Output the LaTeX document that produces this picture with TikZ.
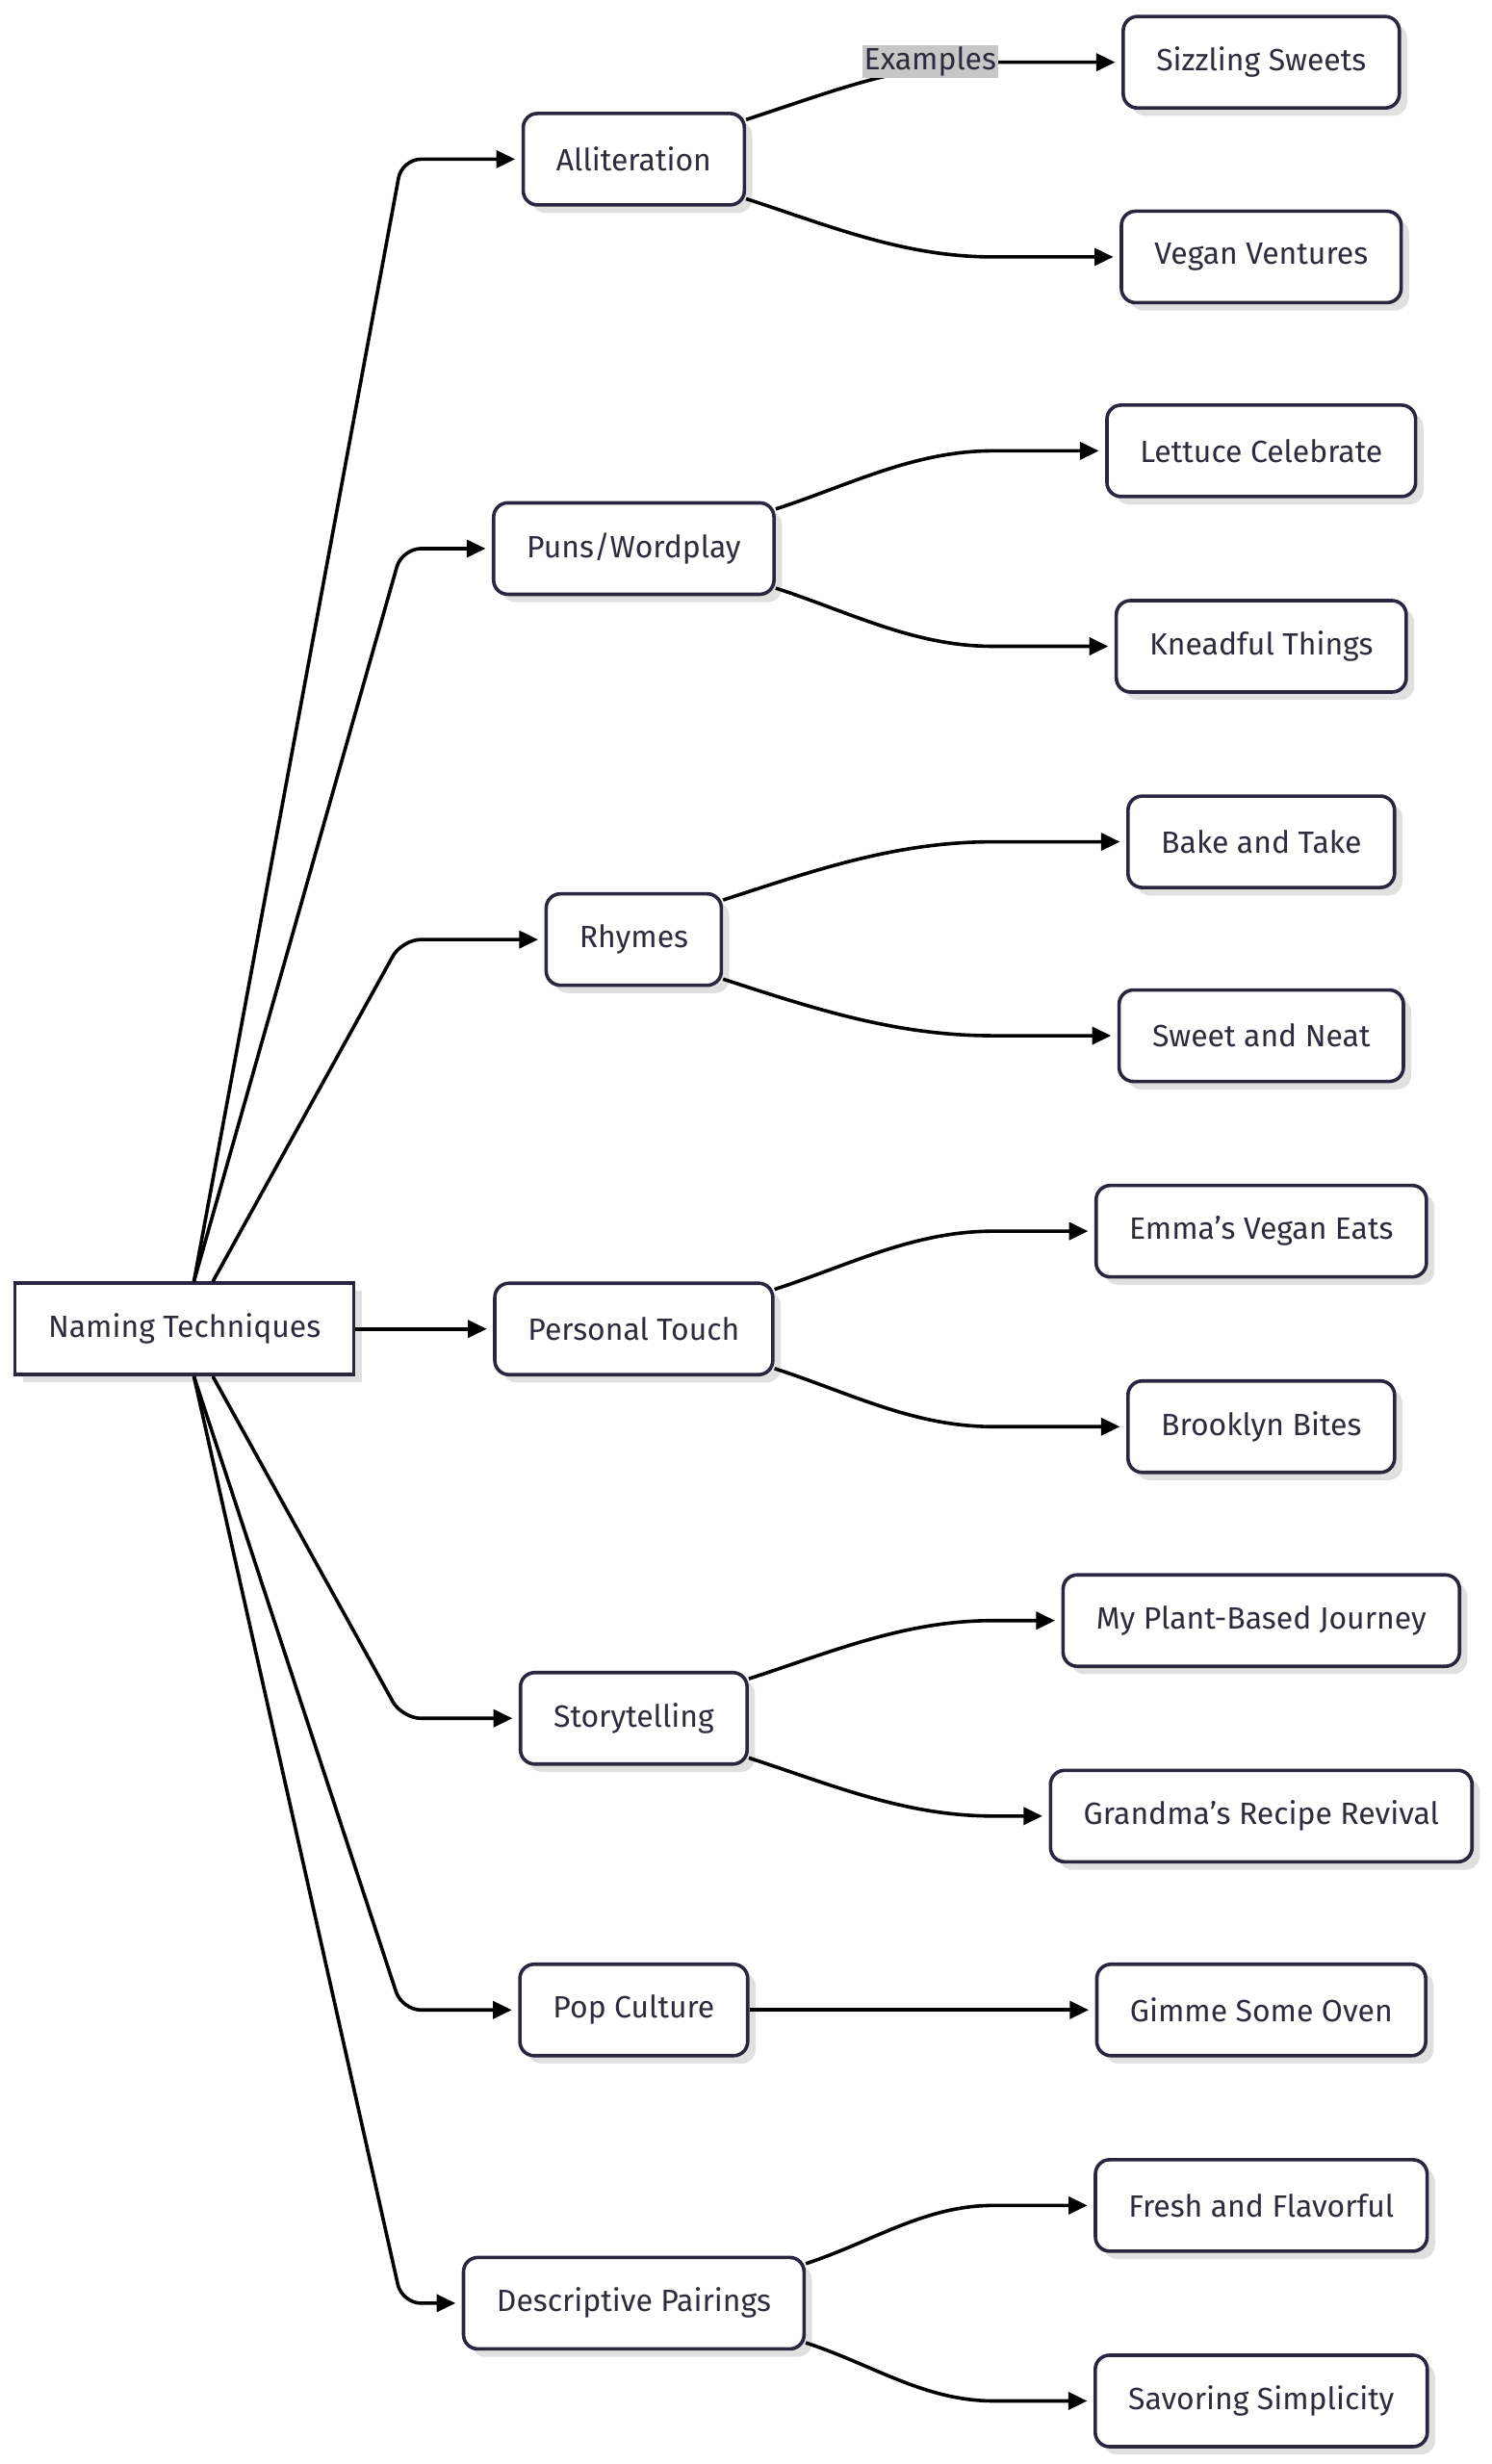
\documentclass[tikz,border=0pt]{standalone}
\usepackage{fontspec}
\setmainfont{Fira Sans}
\usetikzlibrary{arrows.meta,shadows,calc}
\definecolor{bd}{HTML}{2B2640}
\definecolor{tx}{HTML}{2F2B3D}
\begin{document}
\begin{tikzpicture}[x=1pt,y=1pt,
  box/.style={draw=bd,line width=2.2pt,fill=white,rounded corners=9pt,minimum height=58pt,inner xsep=21pt,text=tx,font=\fontsize{19.5}{22}\selectfont,
    drop shadow={shadow xshift=5pt,shadow yshift=-5pt,fill=black!12,opacity=1}},
  rootb/.style={box,rounded corners=0pt},
  edge/.style={line width=2.2pt,-{Triangle[length=12pt,width=11pt]},shorten >=4pt}]
\useasboundingbox (0,0) rectangle (946,1563);
\node[rootb] (root) at (117,720) {Naming Techniques};
\node[box] (a) at (402,1462) {Alliteration};
\node[box] (p) at (402,1215) {Puns/Wordplay};
\node[box] (r) at (402,967) {Rhymes};
\node[box] (t) at (402,720) {Personal Touch};
\node[box] (s) at (402,473) {Storytelling};
\node[box] (c) at (402,288) {Pop Culture};
\node[box] (d) at (402,102) {Descriptive Pairings};
\node[box] (l1) at (800,1523.5) {Sizzling Sweets};
\node[box] (l2) at (800,1400) {Vegan Ventures};
\node[box] (l3) at (800,1277) {Lettuce Celebrate};
\node[box] (l4) at (800,1153) {Kneadful Things};
\node[box] (l5) at (800,1029) {Bake and Take};
\node[box] (l6) at (800,906) {Sweet and Neat};
\node[box] (l7) at (800,782) {Emma's Vegan Eats};
\node[box] (l8) at (800,658) {Brooklyn Bites};
\node[box] (l9) at (800,535) {My Plant-Based Journey};
\node[box] (l10) at (800,411) {Grandma’s Recipe Revival};
\node[box] (l11) at (800,288) {Gimme Some Oven};
\node[box] (l12) at (800,164) {Fresh and Flavorful};
\node[box] (l13) at (800,40) {Savoring Simplicity};
% root edges
\foreach \m/\dx/\anc in {a/6/north,p/6/north,r/18/north,s/18/south,c/6/south,d/6/south}{
  \draw[edge,rounded corners=12pt] ($(root.\anc)+(\dx,0)$) -- (255,0 |- \m.west) -- (\m.west);
}
\draw[edge] (root.east) -- (t.west);
% branch edges
\newcommand\upbr[2]{\draw[edge] ($(#1.north east)+(0,-5)$) to[out=18,in=180,looseness=0.9] (630,0 |- #2.west) -- (#2.west);}
\newcommand\dnbr[2]{\draw[edge] ($(#1.south east)+(0,5)$) to[out=-18,in=180,looseness=0.9] (630,0 |- #2.west) -- (#2.west);}
\upbr{a}{l1}\dnbr{a}{l2}
\upbr{p}{l3}\dnbr{p}{l4}
\upbr{r}{l5}\dnbr{r}{l6}
\upbr{t}{l7}\dnbr{t}{l8}
\upbr{s}{l9}\dnbr{s}{l10}
\draw[edge] (c.east) -- (l11.west);
\upbr{d}{l12}\dnbr{d}{l13}
\node[fill=black!22,text=tx,inner sep=1pt,font=\fontsize{19.5}{22}\selectfont] (ex) at (590,1524) {Examples};
\end{tikzpicture}
\end{document}
